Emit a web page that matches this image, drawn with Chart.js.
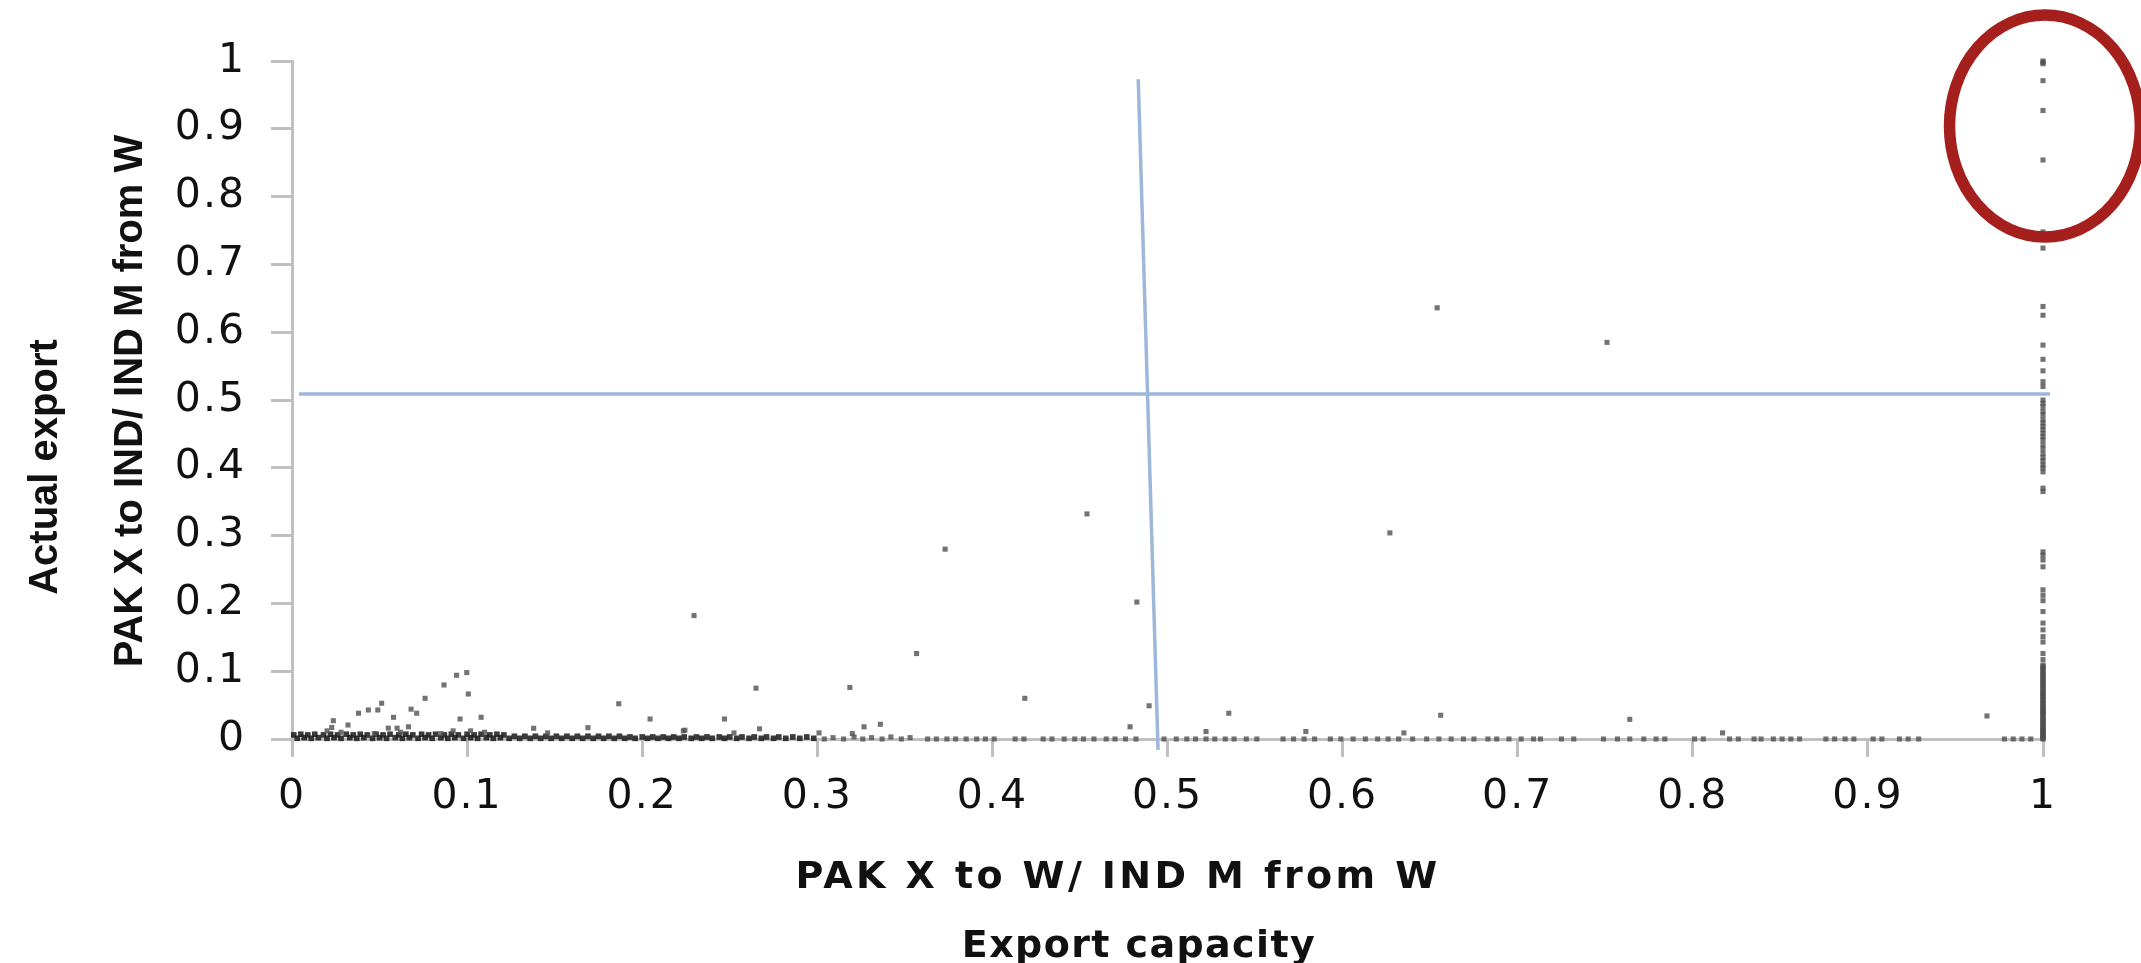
<!DOCTYPE html>
<html><head><meta charset="utf-8">
<script src="https://cdn.jsdelivr.net/npm/chart.js@4.4.1/dist/chart.umd.min.js"></script>
<style>html,body{margin:0;padding:0;background:#fff;} #wrap{width:2141px;height:963px;position:relative;}</style>
</head><body><div id="wrap"><canvas id="c"></canvas></div>
<script>
// ---- Data ----
const xTickLabels = ['0','0.1','0.2','0.3','0.4','0.5','0.6','0.7','0.8','0.9','1'];
const yTickLabels = ['0','0.1','0.2','0.3','0.4','0.5','0.6','0.7','0.8','0.9','1'];

// scattered points above the baseline (export capacity, actual export)
const outlierX = [0.0998,0.094,0.0868,0.1007,0.076,0.0512,0.038,0.0436,0.049,0.058,
                  0.068,0.0712,0.096,0.108,0.0236,0.032,0.0227,0.055,0.0665,0.138,
                  0.169,0.146,0.2244,0.1866,0.2045,0.02,0.028,0.047,0.062,0.085,
                  0.092,0.102,0.11,0.06,0.454,0.373,0.4825,0.2296,0.3567,0.265,
                  0.3186,0.4185,0.4895,0.247,0.2235,0.267,0.3267,0.336,0.4786,0.2524,
                  0.301,0.320,0.654,0.751,0.627,0.535,0.656,0.764,0.522,0.579,
                  0.635,0.817,0.968];
const outlierY = [0.098,0.094,0.0797,0.0664,0.060,0.0527,0.038,0.0428,0.0428,0.032,
                  0.044,0.038,0.0295,0.032,0.027,0.0206,0.017,0.016,0.018,0.0158,
                  0.0167,0.009,0.013,0.052,0.0295,0.012,0.010,0.008,0.010,0.008,
                  0.012,0.012,0.010,0.016,0.332,0.280,0.202,0.182,0.126,0.075,
                  0.076,0.060,0.049,0.0295,0.012,0.015,0.018,0.0217,0.018,0.009,
                  0.009,0.008,0.636,0.585,0.304,0.038,0.035,0.029,0.011,0.011,
                  0.009,0.009,0.034];

// products with export capacity = 1 (the vertical column at x = 1)
const columnY = [1.0,0.998,0.996,0.971,0.927,0.854,0.748,0.724,0.638,0.625,
                 0.581,0.56,0.543,0.527,0.52,0.5,0.495,0.49,0.483,0.478,
                 0.471,0.466,0.461,0.456,0.451,0.446,0.441,0.434,0.428,0.421,
                 0.415,0.41,0.404,0.4,0.394,0.37,0.365,0.276,0.271,0.264,
                 0.254,0.22,0.212,0.204,0.188,0.171,0.161,0.151,0.143,0.126,
                 0.117,0.109,0.107,0.105,0.102,0.1,0.097,0.095,0.093,0.09,
                 0.088,0.086,0.083,0.081,0.079,0.076,0.074,0.072,0.069,0.067,
                 0.065,0.063,0.061,0.058,0.056,0.054,0.052,0.049,0.047,0.045,
                 0.043,0.041,0.039,0.037,0.035,0.032,0.03,0.028,0.026,0.024,
                 0.022,0.02,0.018,0.016,0.014,0.012,0.011,0.009,0.007,0.005,
                 0.004,0.002,0.001,0];

// products with (near) zero actual export along the baseline
const baselineX = [0.304,0.309,0.315,0.321,0.326,0.331,0.337,0.342,0.348,0.353,
                   0.363,0.368,0.374,0.379,0.385,0.391,0.396,0.401,0.413,0.418,
                   0.429,0.434,0.441,0.447,0.452,0.458,0.465,0.47,0.476,0.482,
                   0.498,0.505,0.511,0.516,0.522,0.527,0.533,0.538,0.545,0.551,
                   0.566,0.572,0.578,0.584,0.593,0.599,0.606,0.613,0.62,0.626,
                   0.632,0.64,0.648,0.655,0.662,0.669,0.675,0.683,0.688,0.695,
                   0.702,0.709,0.713,0.725,0.732,0.749,0.757,0.764,0.772,0.779,
                   0.784,0.801,0.806,0.821,0.826,0.835,0.839,0.846,0.851,0.856,
                   0.861,0.876,0.881,0.887,0.892,0.903,0.908,0.918,0.923,0.929,
                   0.978,0.983,0.988,0.993];
const baselineY = [0,0.002,0,0.003,0,0.002,0,0.003,0,0.002,
                   0,0,0,0,0,0,0,0,0,0,
                   0,0,0,0,0,0,0,0,0,0,
                   0,0,0,0,0,0,0,0,0,0,
                   0,0,0,0,0,0,0,0,0,0,
                   0,0,0,0,0,0,0,0,0,0,
                   0,0,0,0,0,0,0,0,0,0,
                   0,0,0,0,0,0,0,0,0,0,
                   0,0,0,0,0,0,0,0,0,0,
                   0,0,0,0];
// the crowded stretch of the baseline between 0 and 0.3
const denseX = [0.001,0.003,0.005,0.007,0.009,0.011,0.013,0.015,0.018,0.02,
                0.022,0.024,0.026,0.028,0.031,0.033,0.035,0.037,0.039,0.041,
                0.043,0.046,0.048,0.05,0.052,0.054,0.056,0.059,0.061,0.063,
                0.065,0.067,0.069,0.072,0.074,0.076,0.078,0.08,0.082,0.085,
                0.087,0.089,0.091,0.093,0.095,0.098,0.1,0.102,0.104,0.106,
                0.108,0.111,0.113,0.115,0.117,0.119,0.121,0.124,0.127,0.13,
                0.133,0.136,0.139,0.142,0.145,0.148,0.151,0.154,0.157,0.16,
                0.163,0.166,0.169,0.172,0.175,0.178,0.181,0.184,0.187,0.19,
                0.193,0.196,0.2,0.203,0.206,0.209,0.212,0.215,0.218,0.221,
                0.224,0.228,0.231,0.234,0.237,0.24,0.244,0.247,0.25,0.254,
                0.257,0.261,0.264,0.268,0.271,0.275,0.278,0.282,0.286,0.29,
                0.294,0.298];
const denseY = [0.006,0.001,0.007,0.002,0.006,0.001,0.007,0.002,0.006,0.001,
                0.007,0.002,0.006,0.001,0.007,0.002,0.006,0.001,0.007,0.002,
                0.006,0.001,0.007,0.002,0.006,0.001,0.007,0.002,0.006,0.001,
                0.007,0.002,0.006,0.001,0.007,0.002,0.006,0.001,0.007,0.002,
                0.006,0.001,0.007,0.002,0.006,0.001,0.007,0.002,0.006,0.001,
                0.007,0.002,0.006,0.001,0.007,0.002,0.006,0.001,0.004,0.001,
                0.004,0.001,0.004,0.001,0.004,0.001,0.004,0.001,0.004,0.001,
                0.004,0.001,0.004,0.001,0.004,0.001,0.004,0.001,0.004,0.001,
                0.003,0.001,0.003,0.001,0.003,0.001,0.003,0.001,0.003,0.001,
                0.003,0.001,0.003,0.001,0.003,0.001,0.003,0.001,0.003,0.001,
                0.003,0.001,0.003,0.001,0.003,0.001,0.003,0.001,0.003,0.001,
                0.003,0.001];

// reference lines
const hLineX = [0.004, 1.004];
const hLineY = [0.509, 0.509];
const vLineX = [0.4833, 0.4946];
const vLineY = [0.973, -0.016];

// highlight ellipse (data units)
const ellipseCenter = {x: 1.0011, y: 0.904};
const ellipseRadius = {x: 0.0545, y: 0.1637};

// ---- Build ----
const pts = (xs, ys) => xs.map((x, i) => ({x: x, y: ys[i]}));
const colPts = columnY.map(y => ({x: 1, y: y}));

const POINT_COLOR = 'rgba(80,80,80,0.8)';
const DENSE_COLOR = 'rgba(25,25,25,0.85)';
const LINE_COLOR = '#9DB8DA';
const AXIS_COLOR = '#C0C0C0';
const TICK_COLOR = '#111111';

const textPlugin = {
  id: 'texts',
  beforeDraw(chart) {
    chart.ctx.letterSpacing = '2px';
  },
  afterDatasetsDraw(chart) {
    const ctx = chart.ctx, xs = chart.scales.x, ys = chart.scales.y;
    const cx = xs.getPixelForValue(ellipseCenter.x);
    const cy = ys.getPixelForValue(ellipseCenter.y);
    const rx = xs.getPixelForValue(ellipseCenter.x + ellipseRadius.x) - cx;
    const ry = cy - ys.getPixelForValue(ellipseCenter.y + ellipseRadius.y);
    ctx.save();
    ctx.strokeStyle = '#A51F1D';
    ctx.lineWidth = 11.5;
    ctx.beginPath();
    ctx.ellipse(cx, cy, rx, ry, 0, 0, Math.PI * 2);
    ctx.stroke();
    ctx.restore();
  },
  afterDraw(chart) {
    const ctx = chart.ctx;
    ctx.save();
    ctx.fillStyle = '#111111';
    ctx.textAlign = 'center';
    ctx.textBaseline = 'alphabetic';
    // x-axis titles
    ctx.font = 'bold 38px "DejaVu Sans"';
    ctx.letterSpacing = '3.4px';
    ctx.fillText('PAK X to W/ IND M from W', 1118, 888);
    ctx.letterSpacing = '1.4px';
    ctx.fillText('Export capacity', 1139, 957);
    // y-axis titles (rotated)
    ctx.font = 'bold 40px "Liberation Sans"';
    ctx.letterSpacing = '0px';
    ctx.save();
    ctx.translate(57, 467);
    ctx.rotate(-Math.PI / 2);
    ctx.fillText('Actual export', 0, 0);
    ctx.restore();
    ctx.save();
    ctx.translate(142, 401);
    ctx.rotate(-Math.PI / 2);
    ctx.fillText('PAK X to IND/ IND M from W', 0, 0);
    ctx.restore();
    ctx.restore();
  }
};

const pointSet = (data, r, c) => ({data: data, pointStyle: 'rect', pointRadius: r,
  backgroundColor: c, borderWidth: 0, clip: false});

new Chart(document.getElementById('c'), {
  type: 'scatter',
  data: {
    datasets: [
      {type: 'line', data: pts(hLineX, hLineY), borderColor: LINE_COLOR, borderWidth: 3.5,
       pointRadius: 0, fill: false, clip: false, showLine: true},
      {type: 'line', data: pts(vLineX, vLineY), borderColor: LINE_COLOR, borderWidth: 3.5,
       pointRadius: 0, fill: false, clip: false, showLine: true},
      pointSet(pts(outlierX, outlierY), 3.6, POINT_COLOR),
      pointSet(colPts, 3.6, POINT_COLOR),
      pointSet(pts(baselineX, baselineY), 3.6, POINT_COLOR),
      pointSet(pts(denseX, denseY), 4, DENSE_COLOR)
    ]
  },
  options: {
    animation: false,
    responsive: true,
    maintainAspectRatio: false,
    devicePixelRatio: 1,
    layout: {padding: {top: 61, right: 98, bottom: 0, left: 0}},
    plugins: {legend: {display: false}, tooltip: {enabled: false}},
    scales: {
      x: {
        type: 'linear', position: 'bottom', min: 0, max: 1,
        ticks: {stepSize: 0.1, autoSkip: false, maxRotation: 0, padding: 16, color: TICK_COLOR,
                font: {family: 'DejaVu Sans', size: 41},
                callback: v => xTickLabels[Math.round(v * 10)]},
        grid: {drawOnChartArea: false, drawTicks: true, tickLength: 18, tickColor: AXIS_COLOR, tickWidth: 3},
        border: {display: true, color: AXIS_COLOR, width: 3},
        title: {display: false},
        afterFit: s => { s.height = 224; }
      },
      y: {
        type: 'linear', min: 0, max: 1,
        ticks: {stepSize: 0.1, autoSkip: false, padding: 25, color: TICK_COLOR,
                font: {family: 'DejaVu Sans', size: 41},
                callback: v => yTickLabels[Math.round(v * 10)]},
        grid: {drawOnChartArea: false, drawTicks: true, tickLength: 21, tickColor: AXIS_COLOR, tickWidth: 3},
        border: {display: true, color: AXIS_COLOR, width: 3},
        title: {display: false},
        afterFit: s => { s.width = 292; }
      }
    }
  },
  plugins: [textPlugin]
});
</script></body></html>
